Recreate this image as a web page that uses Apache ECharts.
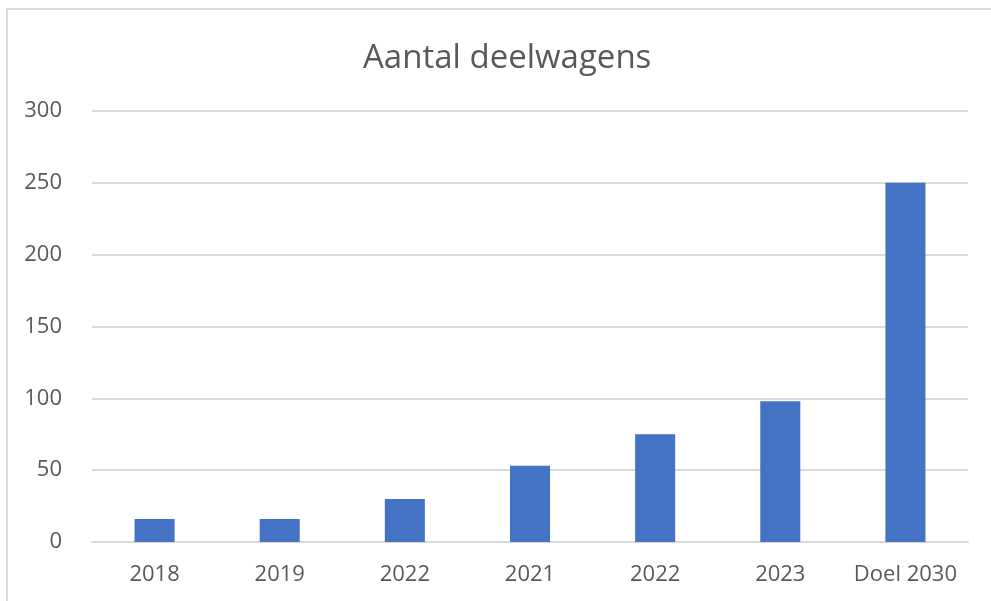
<!DOCTYPE html>
<html>
<head>
<meta charset="utf-8">
<script src="https://cdn.jsdelivr.net/npm/echarts@6/dist/echarts.min.js"></script>
<style>
  html, body { margin: 0; padding: 0; background: #fff; overflow: hidden; }
  #chart { width: 991px; height: 601px; }
  /* rand van het grafiekvak, rechts en onder afgesneden */
  #frame {
    position: absolute; left: 6px; top: 8px; width: 1100px; height: 700px;
    border: 2px solid #d9d9d9; pointer-events: none; box-sizing: border-box;
  }
</style>
</head>
<body>
<div id="chart"></div>
<div id="frame"></div>
<script>
// categorieen (x-as)
var jaren = ['2018', '2019', '2022', '2021', '2022', '2023', 'Doel 2030'];
// aantal deelwagens per categorie
var aantallen = [16, 16, 30, 53, 75, 98, 250];
// y-as
var yMin = 0, yMax = 300, yStap = 50;

var chart = echarts.init(document.getElementById('chart'));
var fontFam = '"Open Sans", "Noto Sans", sans-serif';
var option = {
  animation: false,
  title: {
    text: 'Aantal deelwagens',
    left: 358,
    top: 37,
    textStyle: { fontFamily: fontFam, fontSize: 33, fontWeight: 'normal', color: '#595959' }
  },
  grid: {
    left: 92, right: 23, top: 111, bottom: 59,
    containLabel: false, outerBoundsMode: 'none'
  },
  xAxis: {
    type: 'category',
    data: jaren,
    axisLine: { show: true, lineStyle: { color: '#d9d9d9', width: 2 } },
    axisTick: { show: false },
    axisLabel: { fontFamily: fontFam, fontSize: 22, color: '#595959', margin: 22, interval: 0 }
  },
  yAxis: {
    type: 'value',
    min: yMin, max: yMax, interval: yStap,
    axisLine: { show: false },
    axisTick: { show: false },
    axisLabel: { fontFamily: fontFam, fontSize: 22, color: '#595959', margin: 30 },
    splitLine: { lineStyle: { color: '#d9d9d9', width: 2 } }
  },
  series: [{
    type: 'bar',
    data: aantallen,
    barWidth: '32%',
    itemStyle: { color: '#4472C4' }
  }]
};
chart.setOption(option);
</script>
</body>
</html>
